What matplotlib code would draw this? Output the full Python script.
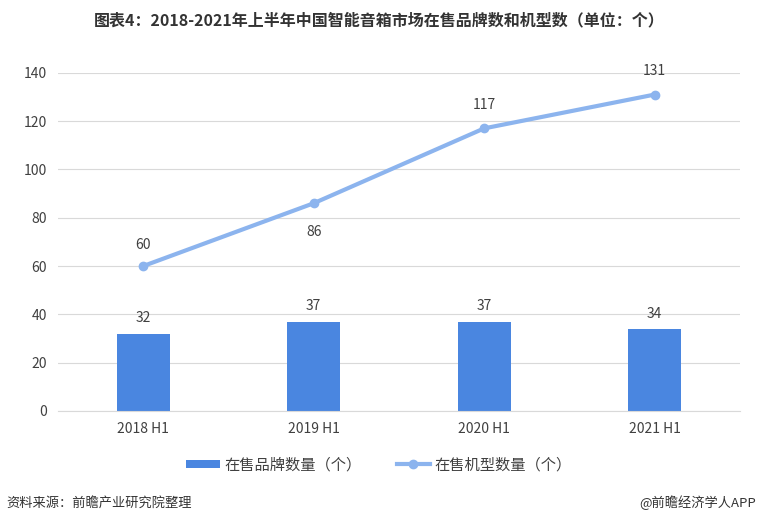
import numpy as np
import matplotlib.pyplot as plt

plt.rcParams['font.family'] = ['Noto Sans CJK SC', 'DejaVu Sans']

# data
categories = ["2018 H1", "2019 H1", "2020 H1", "2021 H1"]
brands = [32, 37, 37, 34]
models = [60, 86, 117, 131]
brand_label = "在售品牌数量（个）"
model_label = "在售机型数量（个）"
title = "图表4：2018-2021年上半年中国智能音箱市场在售品牌数和机型数（单位：个）"

BAR_C = "#4a86e0"
LINE_C = "#8cb4ee"
TXT_C = "#404040"

fig = plt.figure(figsize=(7.58, 5.24), dpi=100)
ax = fig.add_axes([0.0765, 0.2157, 0.8995, 0.6453])

x = np.arange(len(categories))
bars = ax.bar(x, brands, width=0.31, color=BAR_C, label=brand_label, zorder=2)
line, = ax.plot(x, models, color=LINE_C, lw=3, marker="o", ms=6, label=model_label, zorder=3)

for xi, v in zip(x, brands):
    ax.annotate(str(v), (xi, v), xytext=(0, 6), textcoords="offset points",
                ha="center", va="bottom", fontsize=10, color=TXT_C)
offsets = [10, -16, 12, 12]
for xi, v, dy in zip(x, models, offsets):
    ax.annotate(str(v), (xi, v), xytext=(0, dy), textcoords="offset points",
                ha="center", va="bottom" if dy > 0 else "top", fontsize=10, color=TXT_C)

ax.set_xlim(-0.5, 3.5)
ax.set_ylim(0, 140)
ax.set_yticks(range(0, 141, 20))
ax.set_xticks(x)
ax.set_xticklabels(categories)
ax.tick_params(length=0, labelsize=10, colors="#404040", pad=8)
ax.grid(axis="y", color="#d9d9d9", lw=0.8, zorder=0)
for s in ["top", "right", "left"]:
    ax.spines[s].set_visible(False)
ax.spines["bottom"].set_color("#d9d9d9")

fig.legend([bars, line], [brand_label, model_label], loc="center",
           bbox_to_anchor=(0.5, 0.113), ncol=2, frameon=False,
           fontsize=11, handlelength=2.2, columnspacing=2.3, handletextpad=0.3,
           labelcolor=TXT_C, handleheight=0.5)

fig.text(0.5, 0.962, title, ha="center", va="center", fontsize=11.5,
         fontweight="bold", color="#333333")
fig.text(0.008, 0.04, "资料来源：前瞻产业研究院整理", ha="left", va="center",
         fontsize=9.5, color="#333333")
fig.text(0.997, 0.04, "@前瞻经济学人APP", ha="right", va="center",
         fontsize=9.5, color="#333333")

fig.savefig("out.png", dpi=100)
